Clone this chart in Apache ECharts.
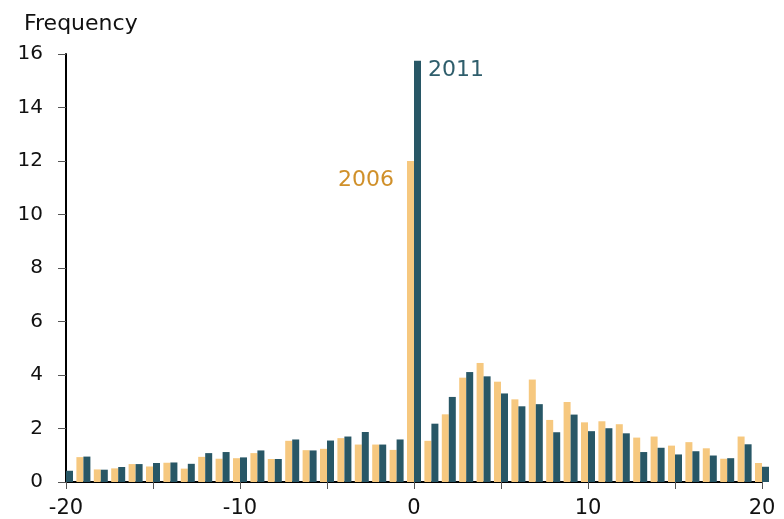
<!DOCTYPE html>
<html>
<head>
<meta charset="utf-8">
<script src="https://cdn.jsdelivr.net/npm/echarts@6/dist/echarts.min.js"></script>
<style>
  html, body { margin: 0; padding: 0; background: #fff; }
  #chart { width: 784px; height: 519px; }
</style>
</head>
<body>
<div id="chart"></div>
<script>
// change from -20 to 20
const xValues = [-20, -19, -18, -17, -16, -15, -14, -13, -12, -11, -10, -9, -8, -7, -6, -5, -4, -3, -2, -1,
  0, 1, 2, 3, 4, 5, 6, 7, 8, 9, 10, 11, 12, 13, 14, 15, 16, 17, 18, 19, 20];

// the 2006 bar at -20 is hidden behind the axis in the original
const freq2006 = [null, 0.93, 0.47, 0.51, 0.67, 0.58, 0.72, 0.50, 0.94, 0.87, 0.89, 1.08, 0.86, 1.54, 1.19, 1.24, 1.64, 1.40, 1.40, 1.20,
  12.0, 1.54, 2.53, 3.90, 4.45, 3.75, 3.09, 3.83, 2.32, 2.99, 2.23, 2.27, 2.16, 1.66, 1.70, 1.36, 1.49, 1.26, 0.87, 1.70, 0.71];

const freq2011 = [0.42, 0.95, 0.46, 0.56, 0.67, 0.71, 0.73, 0.68, 1.08, 1.12, 0.92, 1.18, 0.86, 1.59, 1.18, 1.55, 1.70, 1.87, 1.40, 1.59,
  15.75, 2.18, 3.18, 4.11, 3.95, 3.31, 2.83, 2.91, 1.86, 2.52, 1.90, 2.01, 1.82, 1.12, 1.28, 1.03, 1.15, 0.99, 0.89, 1.41, 0.57];

const yTicks = [0, 2, 4, 6, 8, 10, 12, 14, 16];

const font = 'DejaVu Sans';
const orange = '#f6c87f';
const teal = '#285766';

const chart = echarts.init(document.getElementById('chart'));

chart.setOption({
  animation: false,
  title: {
    text: 'Frequency',
    left: 19,
    top: 8,
    textStyle: { fontFamily: font, fontSize: 22, fontWeight: 'normal', color: '#111' }
  },
  grid: { left: 66, right: 22, top: 54, bottom: 35 },
  xAxis: {
    type: 'value',
    min: -20,
    max: 20,
    interval: 5,
    splitLine: { show: false },
    axisLine: { onZero: false, lineStyle: { color: '#000', width: 2 } },
    axisTick: { length: 7, lineStyle: { color: '#555', width: 1 } },
    axisLabel: {
      margin: 16,
      fontFamily: font,
      fontSize: 21,
      color: '#111',
      formatter: v => (v % 10 === 0 ? String(v) : '')
    }
  },
  yAxis: {
    type: 'value',
    min: yTicks[0],
    max: yTicks[yTicks.length - 1],
    interval: 2,
    splitLine: { show: false },
    axisLine: { show: true, onZero: false, lineStyle: { color: '#000', width: 2 } },
    axisTick: { show: true, length: 8, lineStyle: { color: '#555', width: 1 } },
    axisLabel: { margin: 23, fontFamily: font, fontSize: 20, color: '#111' }
  },
  series: [
    {
      name: '2006',
      type: 'bar',
      barWidth: 7,
      barGap: '0%',
      itemStyle: { color: orange },
      data: xValues.map((x, i) => [x, freq2006[i]])
    },
    {
      name: '2011',
      type: 'bar',
      barWidth: 7,
      barGap: '0%',
      itemStyle: { color: teal },
      data: xValues.map((x, i) => [x, freq2011[i]])
    }
  ],
  graphic: [
    {
      type: 'text',
      left: 428,
      top: 59,
      style: { text: '2011', font: '22px "DejaVu Sans"', fill: '#2f5e6c' }
    },
    {
      type: 'text',
      right: 784 - 394,
      top: 169,
      style: { text: '2006', font: '22px "DejaVu Sans"', fill: '#d0902a' }
    }
  ]
});
</script>
</body>
</html>
